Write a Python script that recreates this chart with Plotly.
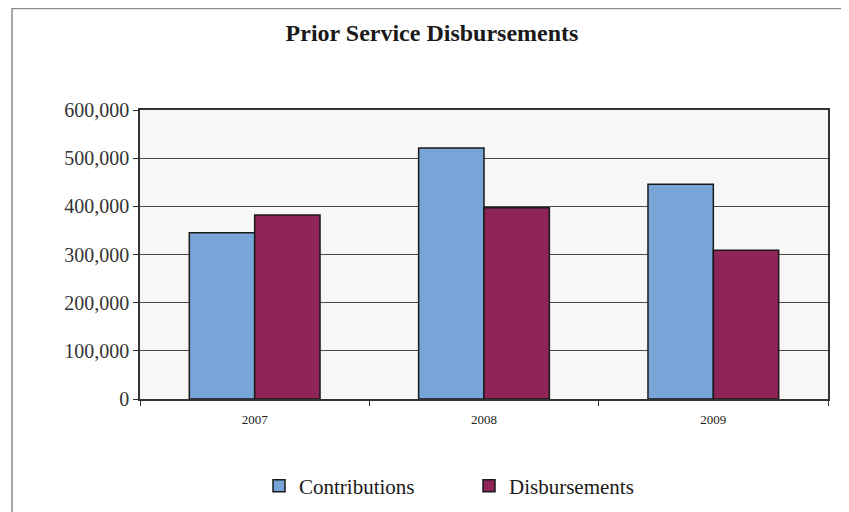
import plotly.graph_objects as go

years = ["2007", "2008", "2009"]
contributions = [345000, 521000, 446000]
disbursements = [382000, 397000, 309000]
y_ticks = [0, 100000, 200000, 300000, 400000, 500000, 600000]
y_labels = ["0", "100,000", "200,000", "300,000", "400,000", "500,000", "600,000"]

# page body has an 8px margin, so the figure is drawn 8px smaller
W, H = 841, 504
L, R, T, B = 132, 21, 102, 113
pw, ph = W - L - R, H - T - B

serif = "Liberation Serif, Times New Roman, serif"

fig = go.Figure()
fig.add_trace(go.Bar(name="Contributions", x=years, y=contributions,
                     marker=dict(color="#78a5d8", line=dict(color="#1a1a1a", width=1.5))))
fig.add_trace(go.Bar(name="Disbursements", x=years, y=disbursements,
                     marker=dict(color="#8e2458", line=dict(color="#1a1a1a", width=1.5))))

# outer chart frame (left and top edges visible)
fx = (4 - L) / pw
fy = 1 + (T - 0.5) / ph
fig.add_shape(type="path", xref="paper", yref="paper",
              path=f"M {fx},-2 L {fx},{fy} L 1.2,{fy}",
              line=dict(color="#8a8a8a", width=1.5), layer="below")

fig.update_layout(
    width=W, height=H,
    margin=dict(l=L, r=R, t=T, b=B, autoexpand=False),
    paper_bgcolor="white",
    plot_bgcolor="#f7f7f5",
    barmode="group",
    bargap=0.43,
    bargroupgap=0,
    title=dict(text="<b>Prior Service Disbursements</b>", x=424 / W, xanchor="center",
               y=1 - 25 / H, yanchor="middle",
               font=dict(family=serif, size=24, color="#1a1a1a")),
    font=dict(family=serif, color="#222"),
    showlegend=True,
    legend=dict(orientation="h", x=(461 - L) / pw, xanchor="center",
                y=(H - 478) / H, yref="container", yanchor="middle",
                font=dict(family=serif, size=21, color="#1a1a1a"),
                entrywidth=165, bgcolor="rgba(0,0,0,0)"),
)
fig.update_yaxes(range=[0, 600000], tickvals=y_ticks, ticktext=y_labels,
                 showgrid=True, gridcolor="#4a4a4a", gridwidth=1,
                 ticks="outside", ticklen=5, tickcolor="#333",
                 showline=True, linecolor="#333", linewidth=1.5, mirror=True,
                 automargin=False,
                 tickfont=dict(family=serif, size=20, color="#333"), zeroline=False)
fig.update_xaxes(ticks="outside", tickson="boundaries", ticklen=5, tickcolor="#333",
                 showline=True, linecolor="#333", linewidth=1.5, mirror=True,
                 ticklabelstandoff=8, automargin=False,
                 tickfont=dict(family=serif, size=13, color="#222"))

fig.write_html("out.html")
